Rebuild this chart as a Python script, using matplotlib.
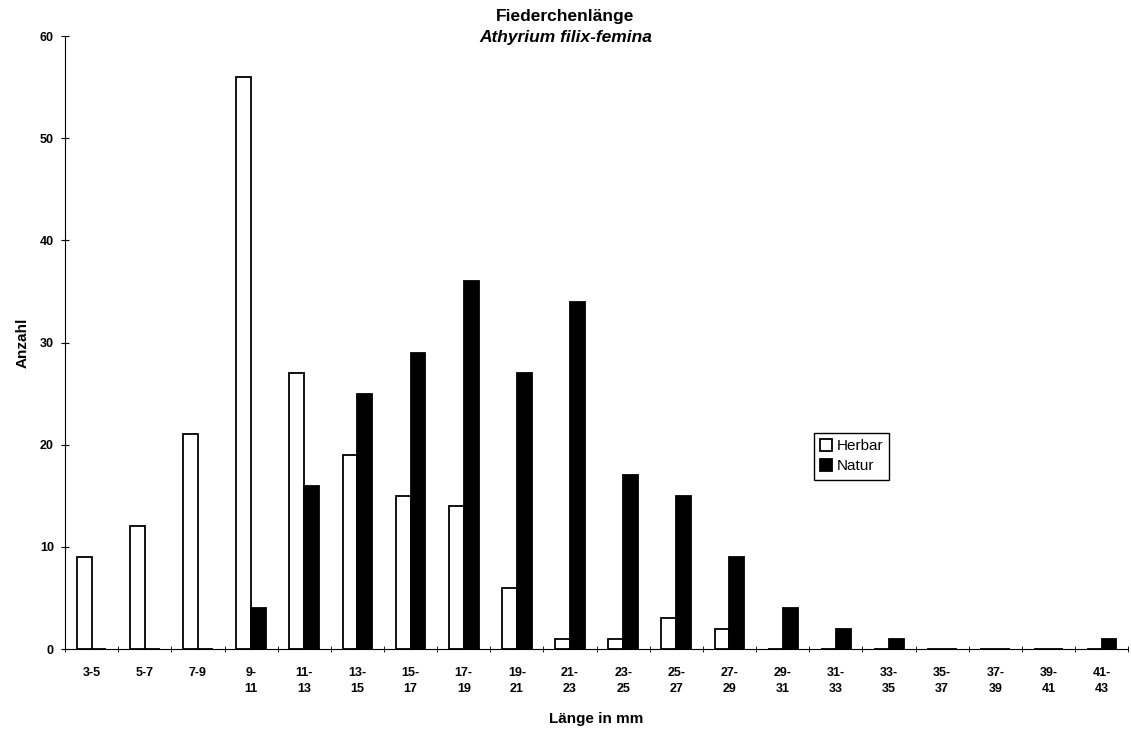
import matplotlib.pyplot as plt
import numpy as np

plt.rcParams['font.family'] = ['Liberation Sans', 'DejaVu Sans']

klassen = ['3-5', '5-7', '7-9', '9-\n11', '11-\n13', '13-\n15', '15-\n17', '17-\n19',
           '19-\n21', '21-\n23', '23-\n25', '25-\n27', '27-\n29', '29-\n31', '31-\n33',
           '33-\n35', '35-\n37', '37-\n39', '39-\n41', '41-\n43']
herbar = [9, 12, 21, 56, 27, 19, 15, 14, 6, 1, 1, 3, 2, 0, 0, 0, 0, 0, 0, 0]
natur = [0, 0, 0, 4, 16, 25, 29, 36, 27, 34, 17, 15, 9, 4, 2, 1, 0, 0, 0, 1]

fig = plt.figure(figsize=(11.31, 7.35), dpi=100)
ax = fig.add_axes([0.0575, 0.117, 0.94, 0.834])

x = np.arange(len(klassen))
w = 0.28
ax.bar(x - w/2, herbar, w, color='white', edgecolor='black', linewidth=1.3, label='Herbar')
ax.bar(x + w/2, natur, w, color='black', edgecolor='black', linewidth=1.3, label='Natur')

ax.set_xlim(-0.5, len(klassen) - 0.5)
ax.set_ylim(0, 60)
ax.set_yticks(range(0, 61, 10))
ax.set_xticks(x)
ax.set_xticklabels(klassen, fontsize=9, fontweight='bold', linespacing=1.45, va='top')
ax.set_xticks(np.arange(-0.5, len(klassen), 1), minor=True)
ax.tick_params(axis='x', which='major', length=0, pad=13)
ax.tick_params(axis='x', which='minor', direction='inout', length=5)
ax.tick_params(axis='y', direction='inout', length=6, labelsize=9, pad=5)
for t in ax.get_yticklabels():
    t.set_fontweight('bold')

ax.spines['top'].set_visible(False)
ax.spines['right'].set_visible(False)

ax.set_ylabel('Anzahl', fontsize=11, fontweight='bold')
ax.yaxis.set_label_coords(-0.033, 0.5)
ax.set_xlabel('Länge in mm', fontsize=11, fontweight='bold')
ax.xaxis.set_label_coords(0.5, -0.103)
fig.text(0.5, 0.978, 'Fiederchenlänge', ha='center', va='center', fontsize=12.5, fontweight='bold')
fig.text(0.5, 0.949, 'Athyrium filix-femina', ha='center', va='center', fontsize=12.5,
         fontweight='bold', style='italic')

ax.legend(loc='upper left', bbox_to_anchor=(0.697, 0.365), fancybox=False, edgecolor='black',
          fontsize=11, handlelength=0.8, handleheight=0.8, handletextpad=0.3,
          labelspacing=0.4, borderpad=0.4, framealpha=1)

plt.savefig('out.png')
